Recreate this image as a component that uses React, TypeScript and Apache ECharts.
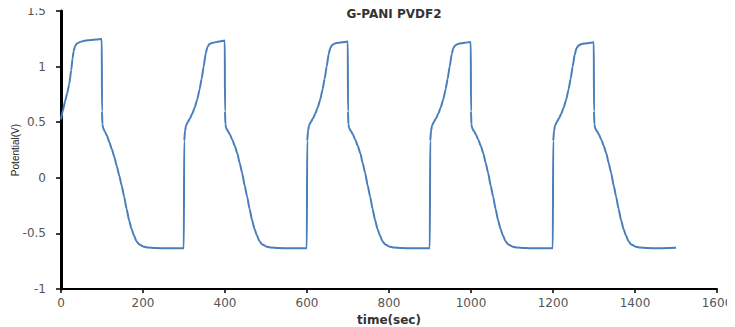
import React, { useEffect, useRef } from "react";
import * as echarts from "echarts";

const titleText = "G-PANI PVDF2";
const xName = "time(sec)";
const yName = "Potential(V)";

const xMin = 0;
const xMax = 1600;
const xInterval = 200;
const yMin = -1;
const yMax = 1.5;
const yInterval = 0.5;

// [time (s), potential (V)], one array per cycle
const cycle1: [number, number][] = [
  [0, 0.526], [5, 0.61], [10, 0.69], [15, 0.76], [20, 0.84], [25, 0.97], [28, 1.07],
  [31, 1.14], [34, 1.18], [38, 1.205], [45, 1.22], [58, 1.233], [75, 1.24], [99.5, 1.248],
  [100, 0.6], [101, 0.48], [103, 0.445], [107, 0.415], [112, 0.38], [118, 0.32],
  [124, 0.256], [130, 0.19], [136, 0.106], [142, 0.02], [148, -0.07], [154, -0.17],
  [160, -0.28], [166, -0.38], [172, -0.46], [178, -0.52], [184, -0.57], [191, -0.6],
  [200, -0.617], [212, -0.627], [230, -0.632], [260, -0.634], [299.5, -0.633],
];

const cycle2: [number, number][] = [
  [300.5, 0.33], [302.5, 0.42], [305, 0.47], [309, 0.5], [314, 0.53],
  [320, 0.575], [326, 0.63], [332, 0.7], [338, 0.795], [343, 0.89], [348, 1.0],
  [353, 1.12], [357, 1.175], [362, 1.203], [370, 1.215], [385, 1.225], [399.5, 1.235],
  [400, 0.6], [401, 0.48], [403, 0.445], [407, 0.42], [412, 0.39], [418, 0.34],
  [424, 0.285], [430, 0.22], [436, 0.13], [442, 0.04], [448, -0.07], [454, -0.17],
  [460, -0.28], [466, -0.38], [472, -0.46], [478, -0.52], [484, -0.57], [491, -0.6],
  [500, -0.617], [512, -0.627], [530, -0.632], [560, -0.634], [599.5, -0.633],
];

const cycle3: [number, number][] = [
  [600.5, 0.33], [602.5, 0.42], [605, 0.47], [609, 0.5], [614, 0.53],
  [620, 0.575], [626, 0.63], [632, 0.7], [638, 0.795], [643, 0.89], [648, 1.0],
  [653, 1.115], [657, 1.17], [662, 1.197], [670, 1.21], [685, 1.218], [699.5, 1.225],
  [700, 0.6], [701, 0.48], [703, 0.445], [707, 0.42], [712, 0.39], [718, 0.34],
  [724, 0.285], [730, 0.22], [736, 0.13], [742, 0.04], [748, -0.07], [754, -0.17],
  [760, -0.28], [766, -0.38], [772, -0.46], [778, -0.52], [784, -0.57], [791, -0.6],
  [800, -0.617], [812, -0.627], [830, -0.632], [860, -0.634], [899.5, -0.633],
];

const cycle4: [number, number][] = [
  [900.5, 0.33], [902.5, 0.42], [905, 0.47], [909, 0.5], [914, 0.53],
  [920, 0.575], [926, 0.63], [932, 0.7], [938, 0.795], [943, 0.89], [948, 1.0],
  [953, 1.112], [957, 1.167], [962, 1.193], [970, 1.206], [985, 1.214], [999.5, 1.222],
  [1000, 0.6], [1001, 0.48], [1003, 0.445], [1007, 0.42], [1012, 0.39], [1018, 0.34],
  [1024, 0.285], [1030, 0.22], [1036, 0.13], [1042, 0.04], [1048, -0.07], [1054, -0.17],
  [1060, -0.28], [1066, -0.38], [1072, -0.46], [1078, -0.52], [1084, -0.57], [1091, -0.6],
  [1100, -0.617], [1112, -0.627], [1130, -0.632], [1160, -0.634], [1199.5, -0.633],
];

const cycle5: [number, number][] = [
  [1200.5, 0.33], [1202.5, 0.42], [1205, 0.47], [1209, 0.5], [1214, 0.53],
  [1220, 0.575], [1226, 0.63], [1232, 0.7], [1238, 0.795], [1243, 0.89], [1248, 1.0],
  [1253, 1.11], [1257, 1.163], [1262, 1.19], [1270, 1.203], [1285, 1.211], [1299.5, 1.218],
  [1300, 0.6], [1301, 0.48], [1303, 0.445], [1307, 0.42], [1312, 0.39], [1318, 0.34],
  [1324, 0.285], [1330, 0.22], [1336, 0.13], [1342, 0.04], [1348, -0.07], [1354, -0.17],
  [1360, -0.28], [1366, -0.38], [1372, -0.46], [1378, -0.52], [1384, -0.57], [1391, -0.6],
  [1400, -0.617], [1412, -0.627], [1430, -0.632], [1460, -0.634], [1500, -0.63],
];

const seriesData = [...cycle1, ...cycle2, ...cycle3, ...cycle4, ...cycle5];

export default function App() {
  const ref = useRef<HTMLDivElement>(null);
  useEffect(() => {
    if (!ref.current) return;
    const chart = echarts.init(ref.current, undefined, { renderer: "svg" });
    const labelFont = "DejaVu Sans, Verdana, sans-serif";
    chart.setOption({
      animation: false,
      backgroundColor: "#ffffff",
      title: {
        text: titleText,
        left: 389,
        textAlign: "center",
        top: 3,
        textStyle: { fontSize: 12, fontWeight: "bold", color: "#333333", fontFamily: labelFont },
      },
      grid: {
        left: 61,
        right: 18,
        top: 11,
        bottom: 38,
        containLabel: false,
        outerBoundsMode: "none",
      },
      xAxis: {
        type: "value",
        min: xMin,
        max: xMax,
        interval: xInterval,
        name: xName,
        nameLocation: "middle",
        nameGap: 25,
        nameMoveOverlap: false,
        nameTextStyle: { fontSize: 12, fontWeight: "bold", color: "#333333", fontFamily: labelFont },
        axisLine: { show: true, onZero: false, lineStyle: { color: "#000000", width: 2 } },
        axisTick: { show: true, inside: false, length: 4, lineStyle: { color: "#000000", width: 1.5 } },
        axisLabel: {
          margin: 8,
          fontSize: 12,
          color: "#555555",
          fontFamily: labelFont,
          formatter: (v: number) => String(v),
        },
        splitLine: { show: false },
      },
      yAxis: {
        type: "value",
        min: yMin,
        max: yMax,
        interval: yInterval,
        name: yName,
        nameLocation: "middle",
        nameGap: 41,
        nameRotate: 90,
        nameMoveOverlap: false,
        nameTextStyle: {
          fontSize: 10,
          color: "#222222",
          fontFamily: "Liberation Sans Narrow, Arial Narrow, Liberation Sans, sans-serif",
        },
        axisLine: { show: true, onZero: false, lineStyle: { color: "#000000", width: 3 } },
        axisTick: { show: true, inside: false, length: 5, lineStyle: { color: "#000000", width: 1.5 } },
        axisLabel: {
          margin: 15,
          fontSize: 12,
          color: "#555555",
          fontFamily: labelFont,
          formatter: (v: number) => String(v),
        },
        splitLine: { show: false },
      },
      series: [
        {
          type: "line",
          data: seriesData,
          showSymbol: false,
          symbol: "none",
          smooth: 0.2,
          smoothMonotone: "x",
          lineStyle: { color: "#4a7ebb", width: 2 },
        },
      ],
    });
    return () => chart.dispose();
  }, []);
  return <div ref={ref} style={{ width: 735, height: 327, marginLeft: -8, marginTop: -8 }} />;
}
